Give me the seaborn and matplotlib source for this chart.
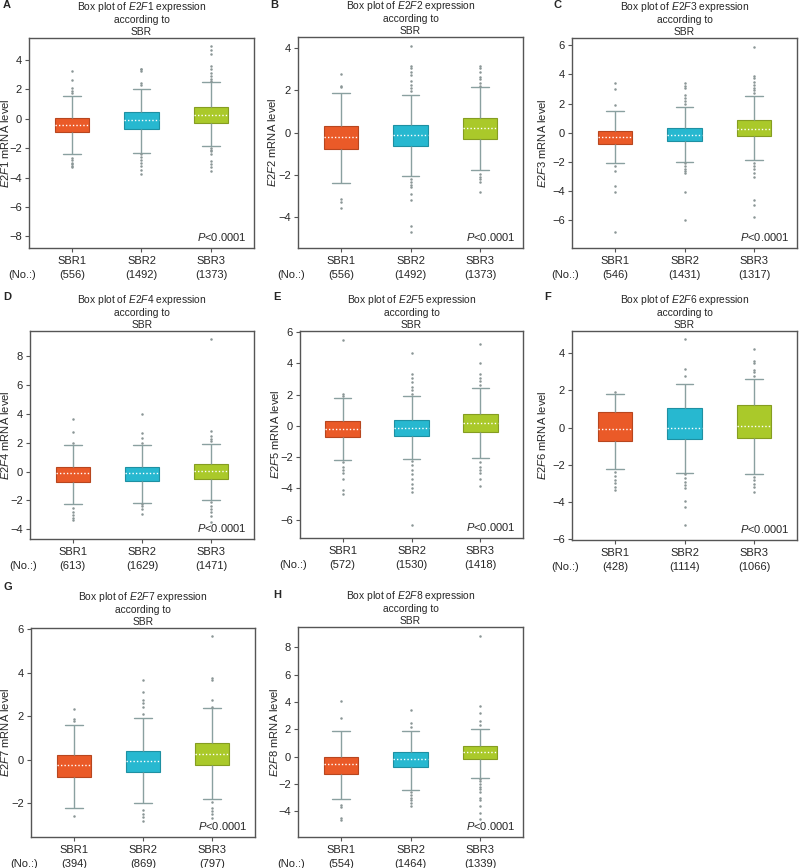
import numpy as np
import pandas as pd
import matplotlib
matplotlib.use("Agg")
import matplotlib.pyplot as plt
import matplotlib.colors as mcolors
import seaborn as sns

# ---------------- data ----------------
groups = ["SBR1", "SBR2", "SBR3"]
genes = ["E2F1", "E2F2", "E2F3", "E2F4", "E2F5", "E2F6", "E2F7", "E2F8"]
letters = ["A", "B", "C", "D", "E", "F", "G", "H"]

counts = {
    "E2F1": [556, 1492, 1373],
    "E2F2": [556, 1492, 1373],
    "E2F3": [546, 1431, 1317],
    "E2F4": [613, 1629, 1471],
    "E2F5": [572, 1530, 1418],
    "E2F6": [428, 1114, 1066],
    "E2F7": [394, 869, 797],
    "E2F8": [554, 1464, 1339],
}

# box summaries per group: [lower whisker, Q1, median, Q3, upper whisker]
box_E2F1 = [[-2.42, -0.93, -0.41, 0.07, 1.56], [-2.30, -0.68, -0.07, 0.43, 2.03], [-1.83, -0.29, 0.25, 0.81, 2.49]]
box_E2F2 = [[-2.39, -0.78, -0.21, 0.32, 1.88], [-2.07, -0.64, -0.11, 0.37, 1.80], [-1.80, -0.32, 0.21, 0.67, 2.15]]
box_E2F3 = [[-2.09, -0.75, -0.30, 0.14, 1.50], [-1.98, -0.57, -0.16, 0.36, 1.75], [-1.89, -0.25, 0.27, 0.89, 2.52]]
box_E2F4 = [[-2.26, -0.69, -0.12, 0.32, 1.84], [-2.19, -0.65, -0.07, 0.35, 1.82], [-1.96, -0.48, 0.05, 0.51, 1.94]]
box_E2F5 = [[-2.16, -0.68, -0.21, 0.30, 1.78], [-2.10, -0.62, -0.13, 0.39, 1.93], [-2.03, -0.39, 0.17, 0.77, 2.44]]
box_E2F6 = [[-2.22, -0.70, -0.07, 0.84, 1.82], [-2.41, -0.63, 0.00, 1.04, 2.34], [-2.47, -0.57, 0.09, 1.22, 2.63]]
box_E2F7 = [[-2.22, -0.81, -0.24, 0.20, 1.60], [-2.00, -0.58, -0.06, 0.41, 1.90], [-1.81, -0.24, 0.27, 0.79, 2.36]]
box_E2F8 = [[-3.08, -1.26, -0.56, 0.00, 1.86], [-2.45, -0.73, -0.17, 0.36, 1.89], [-1.53, -0.17, 0.34, 0.80, 2.06]]

# outlying samples per group
out_E2F1 = [[3.23, 2.62, 2.06, 1.92, 1.76, -2.64, -2.8, -3.0, -3.1, -3.2, -3.3],
            [3.4, 3.35, 3.25, 2.4, 2.3, -2.4, -2.6, -2.8, -3.0, -3.2, -3.5, -3.75],
            [4.97, 4.7, 4.4, 3.57, 3.35, 3.1, 2.9, 2.67, 2.55, -1.97, -2.1, -2.2, -2.4, -2.87, -3.1, -3.3, -3.55]]
out_E2F2 = [[2.8, 2.23, 2.15, -3.18, -3.3, -3.57],
            [4.1, 3.18, 3.07, 2.9, 2.75, 2.43, 2.28, 2.12, 1.96, -2.2, -2.35, -2.5, -2.6, -2.9, -3.2, -4.46, -4.73],
            [3.18, 3.07, 2.9, 2.64, 2.52, 2.36, 2.23, -1.95, -2.1, -2.2, -2.34, -2.82]]
out_E2F3 = [[3.39, 3.0, 1.89, -2.3, -2.64, -3.66, -4.07, -6.77],
            [3.39, 3.2, 3.05, 2.6, 2.4, 2.2, 2.0, -2.07, -2.25, -2.45, -2.6, -2.75, -4.05, -6.0],
            [5.89, 3.91, 3.73, 3.5, 3.3, 3.1, 2.9, 2.7, -2.07, -2.3, -2.5, -2.75, -3.02, -4.64, -4.98, -5.77]]
out_E2F4 = [[3.65, 2.74, 2.0, -2.5, -2.8, -3.0, -3.2, -3.35],
            [4.0, 2.65, 2.35, 1.96, -2.26, -2.4, -2.6, -2.95],
            [9.2, 2.81, 2.46, 2.3, 2.1, -2.14, -2.4, -2.6, -2.8, -3.06, -3.5]]
out_E2F5 = [[5.52, 2.05, 1.9, -2.33, -2.6, -2.8, -3.0, -3.4, -4.1, -4.37],
            [4.67, 3.3, 3.1, 2.8, 2.5, 2.3, 2.05, -2.23, -2.5, -2.8, -3.1, -3.4, -3.7, -4.0, -4.26, -6.36],
            [5.27, 4.03, 3.34, 3.1, 2.9, 2.6, -2.33, -2.6, -2.8, -3.0, -3.4, -3.83]]
out_E2F6 = [[1.93, -2.4, -2.6, -2.8, -2.95, -3.17, -3.35],
            [4.74, 3.15, 2.77, -2.5, -2.7, -2.9, -3.1, -3.25, -3.92, -4.24, -5.22],
            [4.2, 3.6, 3.45, 3.1, 3.0, 2.77, -2.63, -2.8, -3.0, -3.2, -3.43]]
out_E2F7 = [[2.35, 1.89, 1.78, -2.58],
            [3.64, 3.1, 2.73, 2.62, 2.42, 2.12, -2.33, -2.5, -2.65, -2.8],
            [5.67, 3.77, 3.64, 2.73, 2.42, -1.95, -2.2, -2.35, -2.5, -2.7]]
out_E2F8 = [[4.07, 2.83, -3.56, -3.7, -4.5, -4.6],
            [3.39, 2.47, 2.18, -2.57, -2.8, -3.0, -3.2, -3.4, -3.63],
            [8.84, 3.68, 3.2, 2.62, 2.3, -1.65, -1.8, -2.0, -2.2, -2.4, -2.6, -3.0, -3.2, -3.6, -4.1, -4.53]]

boxes = {"E2F1": box_E2F1, "E2F2": box_E2F2, "E2F3": box_E2F3, "E2F4": box_E2F4,
         "E2F5": box_E2F5, "E2F6": box_E2F6, "E2F7": box_E2F7, "E2F8": box_E2F8}
outs = {"E2F1": out_E2F1, "E2F2": out_E2F2, "E2F3": out_E2F3, "E2F4": out_E2F4,
        "E2F5": out_E2F5, "E2F6": out_E2F6, "E2F7": out_E2F7, "E2F8": out_E2F8}

yticks = {
    "E2F1": [-8, -6, -4, -2, 0, 2, 4],
    "E2F2": [-4, -2, 0, 2, 4],
    "E2F3": [-6, -4, -2, 0, 2, 4, 6],
    "E2F4": [-4, -2, 0, 2, 4, 6, 8],
    "E2F5": [-6, -4, -2, 0, 2, 4, 6],
    "E2F6": [-6, -4, -2, 0, 2, 4],
    "E2F7": [-2, 0, 2, 4, 6],
    "E2F8": [-4, -2, 0, 2, 4, 6, 8],
}
ylims = {
    "E2F1": (-8.79, 5.49),
    "E2F2": (-5.49, 4.54),
    "E2F3": (-7.9, 6.5),
    "E2F4": (-4.68, 9.77),
    "E2F5": (-7.18, 6.08),
    "E2F6": (-6.03, 5.19),
    "E2F7": (-3.55, 6.05),
    "E2F8": (-5.88, 9.49),
}

# ---------------- layout (pixels) ----------------
W, H = 799, 868
rects = {
    "E2F1": (29, 38, 254, 248),
    "E2F2": (298, 37, 523, 248),
    "E2F3": (572, 38, 797, 248),
    "E2F4": (30, 331, 254, 539),
    "E2F5": (300, 331, 523, 538),
    "E2F6": (572, 331, 797, 540),
    "E2F7": (31, 628, 255, 837),
    "E2F8": (298, 627, 523, 837),
}
ylabel_x = {"E2F1": 6, "E2F2": 273, "E2F3": 543, "E2F4": 6,
            "E2F5": 276, "E2F6": 543, "E2F7": 6, "E2F8": 275}
letter_pos = {
    "A": (3, 5), "B": (270, 5), "C": (553, 5),
    "D": (3, 297), "E": (273, 297), "F": (544, 297),
    "G": (3, 587), "H": (273, 595),
}

palette = {"SBR1": "#EA5A28", "SBR2": "#27B8D0", "SBR3": "#AAC92A"}
line_col = "#8aa0a0"
dot_col = "#8a9696"
spine_col = "#555555"

sns.set_theme(style="ticks")
plt.rcParams["font.family"] = ["Liberation Sans", "DejaVu Sans"]
plt.rcParams["mathtext.fontset"] = "custom"
plt.rcParams["mathtext.rm"] = "Liberation Sans"
plt.rcParams["mathtext.it"] = "Liberation Sans:italic"
plt.rcParams["mathtext.bf"] = "Liberation Sans:bold"

fs = 8
fs_title = 7.4
fig = plt.figure(figsize=(W / 100, H / 100), dpi=100)
fig.patch.set_facecolor("white")

for gene, letter in zip(genes, letters):
    l, t, r, b = rects[gene]
    ax = fig.add_axes([l / W, 1 - b / H, (r - l) / W, (b - t) / H])

    bdf = pd.DataFrame({
        "group": np.repeat(groups, 5),
        "value": np.concatenate(boxes[gene]),
    })
    sns.boxplot(data=bdf, x="group", y="value", hue="group", order=groups,
                hue_order=groups, palette=palette, saturation=1, width=0.5,
                whis=(0, 100), showfliers=False, linecolor=line_col, linewidth=1.0,
                medianprops=dict(color="white", linestyle=(0, (1, 1.5)), linewidth=1.0),
                legend=False, ax=ax)
    for p in ax.patches:
        fc = mcolors.to_rgb(p.get_facecolor())
        p.set_edgecolor(tuple(c * 0.78 for c in fc))
        p.set_linewidth(0.8)

    o_vals, o_grp = [], []
    for g, vals in zip(groups, outs[gene]):
        o_vals += vals
        o_grp += [g] * len(vals)
    odf = pd.DataFrame({"group": o_grp, "value": o_vals})
    sns.stripplot(data=odf, x="group", y="value", order=groups, color=dot_col,
                  size=1.8, jitter=False, linewidth=0, ax=ax, zorder=3)

    ax.set_xlim(-0.62, 2.62)
    ax.set_ylim(*ylims[gene])
    ax.set_yticks(yticks[gene])
    ax.set_xticks([0, 1, 2])
    ax.set_xticklabels([f"{g}\n({n})" for g, n in zip(groups, counts[gene])],
                       fontsize=fs, linespacing=1.4)
    ax.set_xlabel("")
    ax.set_ylabel(f"$\\it{{{gene}}}$ mRNA level", fontsize=fs)
    ax.yaxis.set_label_coords((ylabel_x[gene] + 5 - l) / (r - l), 0.5)
    ax.tick_params(axis="both", direction="out", length=3, width=0.8,
                   color=spine_col, labelsize=fs, pad=2)
    ax.tick_params(axis="x", pad=3)
    for s in ax.spines.values():
        s.set_visible(True)
        s.set_color(spine_col)
        s.set_linewidth(1.0)

    ax.set_title(f"Box plot of $\\it{{{gene}}}$ expression\naccording to\nSBR",
                 fontsize=fs_title, linespacing=1.15, pad=2.5)
    ax.text(0.965, 0.052, "$\\it{P}$<0.0001", transform=ax.transAxes,
            ha="right", va="center", fontsize=fs)
    ax.annotate("(No.:)", xy=(0, 0), xycoords="axes fraction",
                xytext=(7, -27), textcoords="offset pixels",
                ha="right", va="center", fontsize=fs)

    lx, ly = letter_pos[letter]
    fig.text(lx / W, 1 - ly / H, letter, fontsize=fs, fontweight="bold",
             ha="left", va="center")

fig.savefig("out.png", dpi=100, facecolor="white")
